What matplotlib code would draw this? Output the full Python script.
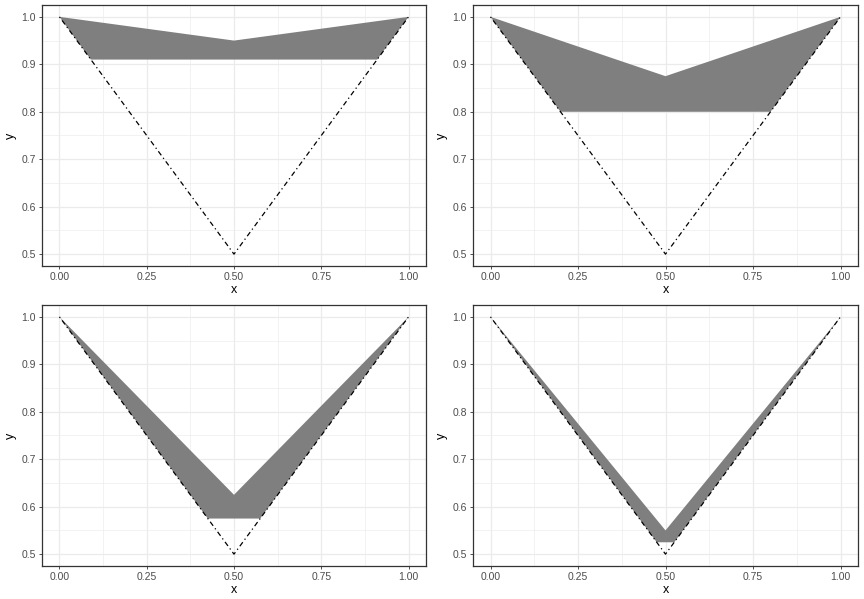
import matplotlib
matplotlib.use("Agg")
import matplotlib.pyplot as plt
from matplotlib.ticker import MultipleLocator

plt.rcParams["font.family"] = ["Liberation Sans", "DejaVu Sans"]

# V-shaped reference line (shared by all panels)
v_x = [0.0, 0.5, 1.0]
v_y = [1.0, 0.5, 1.0]

# shaded polygons, one per panel
poly_x = [
    [0.0, 0.5, 1.0, 0.91, 0.09],
    [0.0, 0.5, 1.0, 0.80, 0.20],
    [0.0, 0.5, 1.0, 0.575, 0.425],
    [0.0, 0.5, 1.0, 0.525, 0.475],
]
poly_y = [
    [1.0, 0.95, 1.0, 0.91, 0.91],
    [1.0, 0.875, 1.0, 0.80, 0.80],
    [1.0, 0.625, 1.0, 0.575, 0.575],
    [1.0, 0.55, 1.0, 0.525, 0.525],
]

x_ticks = [0.0, 0.25, 0.5, 0.75, 1.0]
x_labels = ["0.00", "0.25", "0.50", "0.75", "1.00"]
y_ticks = [0.5, 0.6, 0.7, 0.8, 0.9, 1.0]
y_labels = ["0.5", "0.6", "0.7", "0.8", "0.9", "1.0"]

W, H = 864, 599
fig = plt.figure(figsize=(W / 100, H / 100), dpi=100)

# panel boxes in pixels: left, top, right, bottom
boxes = [
    (42, 5, 426, 266),
    (473, 5, 858, 266),
    (42, 305, 426, 566),
    (473, 305, 858, 566),
]

for (l, t, r, b), px, py in zip(boxes, poly_x, poly_y):
    ax = fig.add_axes([l / W, 1 - b / H, (r - l) / W, (b - t) / H])
    ax.fill(px, py, color="#7F7F7F", linewidth=0, zorder=2)
    ax.plot(v_x, v_y, color="black", lw=0.9, linestyle=(0, (1, 2.5, 4, 2.5)), zorder=3)

    ax.set_xlim(-0.05, 1.05)
    ax.set_ylim(0.475, 1.025)
    ax.set_xticks(x_ticks)
    ax.set_xticklabels(x_labels)
    ax.set_yticks(y_ticks)
    ax.set_yticklabels(y_labels)
    ax.xaxis.set_minor_locator(MultipleLocator(0.125))
    ax.yaxis.set_minor_locator(MultipleLocator(0.05))
    ax.grid(True, which="major", color="#EBEBEB", lw=0.9, zorder=0)
    ax.grid(True, which="minor", color="#EBEBEB", lw=0.45, zorder=0)
    ax.set_axisbelow(True)
    ax.tick_params(which="major", length=2.5, width=0.6, color="#333333",
                   labelsize=7.5, labelcolor="#4D4D4D", pad=2)
    ax.tick_params(which="minor", length=0)
    for sp in ax.spines.values():
        sp.set_color("#333333")
        sp.set_linewidth(0.9)
    ax.set_xlabel("x", fontsize=9, labelpad=1)
    ax.set_ylabel("y", fontsize=9, labelpad=3)

fig.savefig("out.png", dpi=100)
